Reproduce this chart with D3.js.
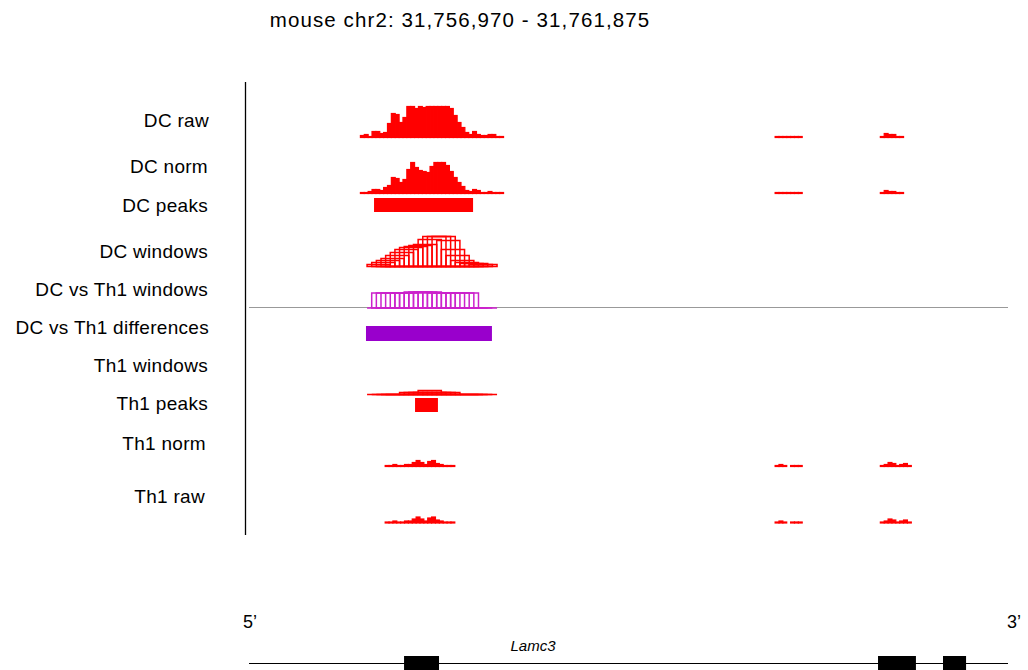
<!DOCTYPE html>
<html>
<head>
<meta charset="utf-8">
<script src="https://cdn.jsdelivr.net/npm/d3@7"></script>
<style>
  body { margin: 0; background: #fff; }
  text { font-family: "Liberation Sans", Arial, Helvetica, sans-serif; }
</style>
</head>
<body>
<svg id="browser" width="1028" height="670"></svg>
<script>
// region shown
var regionChrom = "chr2",
    regionStart = 31756970,
    regionEnd = 31761875;

// track names, top to bottom
var trackNames = ["DC raw", "DC norm", "DC peaks", "DC windows", "DC vs Th1 windows",
                  "DC vs Th1 differences", "Th1 windows", "Th1 peaks", "Th1 norm", "Th1 raw"];

// coverage, 25 bp bins: [first bin start, values...]
var binSize = 25;
var dcRaw = [
  [31757690, [2,3,1,6,6,4,5,14,24,23,15,20,31,31,29,31,30,31,31,31,31,31,31,29,22,15,10,5,3,6,3,2,2,3,3,1,1]],
  [31760370, [1,1,1,1,1,1,1]],
  [31761050, [1,4,3,3,1,1]]
];
var dcNorm = [
  [31757690, [1,1,2,4,4,3,6,8,16,15,11,14,24,31,26,23,22,21,27,31,31,31,28,22,16,11,7,3,2,4,3,1,1,2,1,1,1]],
  [31760370, [1,1,1,1,1,1,1]],
  [31761050, [1,3,2,2,1,1]]
];
var th1Norm = [
  [31757850, [1,1,2,1,1,2,2,4,6,4,2,5,6,3,2,1,1,1]],
  [31760370, [1,2,1,0,1,1,1]],
  [31761050, [1,2,4,3,1,2,3,1]]
];
var th1Raw = [
  [31757850, [1,1,2,1,1,2,2,4,6,4,2,5,6,3,2,1,1,1]],
  [31760370, [1,2,1,0,1,1,1]],
  [31761050, [1,2,4,3,1,2,3,1]]
];

// sliding windows: 150 bp wide, 30 bp step
var windowStart = 31757733, windowStep = 30, windowWidth = 150;
var dcWindows  = [2,4,6,8,11,14,17,19,20,21,22,27,30,30,30,26,17,11,6,4,3,3,2,2];
var th1Windows = [0,0,0,0,0,0,0,2,2,2,2,4,2,2,2,2,0,0,0,0,0,0,0,0];
var dcVsTh1LogFC = [0,1.5,1.5,1.5,1.5,1.5,1.5,1.5,1.6,1.6,1.6,1.6,1.5,1.5,1.5,1.5,1.5,1.5,1.5,1.5,0,0,0,0];

// intervals
var dcPeaks = [[31757778, 31758418]];
var th1Peaks = [[31758043, 31758191]];
var differences = [[31757726, 31758540]];

// gene
var geneName = "Lamc3";
var geneExons = [[31757972, 31758198], [31761035, 31761280], [31761455, 31761604]];

var svg = d3.select("#browser");

var x = d3.scaleLinear().domain([regionStart, regionEnd]).range([249, 1008]);
var yCov = d3.scaleLinear().domain([0, 30]).range([0, 30]);
var yWin = d3.scaleLinear().domain([0, 30]).range([0, 30]);
var yFC = d3.scaleLinear().domain([0, 2]).range([0, 20]);

var red = "#ff0000", magenta = "#cc22cc", purple = "#9900cc";

svg.append("text")
    .attr("x", 460).attr("y", 27)
    .attr("text-anchor", "middle")
    .style("font-size", "20.5px")
    .style("letter-spacing", "1.1px")
    .text("mouse " + regionChrom + ": " + d3.format(",")(regionStart) + " - " + d3.format(",")(regionEnd));

// labels
var labelY = [120, 166, 205, 251, 289, 327, 365, 403, 443, 496];
var labelRight = [209, 208, 208, 208, 208, 209, 208, 208, 206, 205];
svg.append("g").selectAll("text")
    .data(trackNames)
  .enter().append("text")
    .attr("x", function(d, i) { return labelRight[i]; })
    .attr("y", function(d, i) { return labelY[i]; })
    .attr("dy", "0.35em")
    .attr("text-anchor", "end")
    .style("font-size", "19px")
    .style("letter-spacing", "0.3px")
    .text(function(d) { return d; });

svg.append("line")
    .attr("x1", 245.5).attr("x2", 245.5)
    .attr("y1", 82).attr("y2", 535)
    .attr("stroke", "#000").attr("stroke-width", 1.3);

function coverage(data, base) {
  var bins = [];
  data.forEach(function(seg) {
    seg[1].forEach(function(v, i) {
      if (v > 0) bins.push({s: seg[0] + i * binSize, e: seg[0] + (i + 1) * binSize, v: v});
    });
  });
  svg.append("g").selectAll("rect")
      .data(bins)
    .enter().append("rect")
      .attr("x", function(d) { return x(d.s); })
      .attr("width", function(d) { return x(d.e) - x(d.s); })
      .attr("y", function(d) { return base - yCov(d.v); })
      .attr("height", function(d) { return yCov(d.v); })
      .attr("fill", red)
      .attr("stroke", red)
      .attr("stroke-width", 1.2);
}

// each window is an open box; a zero window collapses to a line on the base
function windows(values, base, scale, colour) {
  svg.append("g").selectAll("path")
      .data(values)
    .enter().append("path")
      .attr("d", function(d, i) {
        var x0 = x(windowStart + i * windowStep),
            x1 = x(windowStart + i * windowStep + windowWidth),
            top = base - scale(d);
        return "M" + x0 + "," + base + "V" + top + "H" + x1 + "V" + base + "Z";
      })
      .attr("fill", "none")
      .attr("stroke", colour)
      .attr("stroke-width", 1.5);
}

function intervals(data, top, h, colour) {
  svg.append("g").selectAll("rect")
      .data(data)
    .enter().append("rect")
      .attr("x", function(d) { return x(d[0]); })
      .attr("width", function(d) { return x(d[1]) - x(d[0]); })
      .attr("y", top)
      .attr("height", h)
      .attr("fill", colour);
}

coverage(dcRaw, 137.5);
coverage(dcNorm, 193.5);
intervals(dcPeaks, 198, 14, red);
windows(dcWindows, 266.5, yWin, red);

// zero line of the comparison track
svg.append("line")
    .attr("x1", x(regionStart)).attr("x2", x(regionEnd))
    .attr("y1", 307.5).attr("y2", 307.5)
    .attr("stroke", "#999").attr("stroke-width", 1);
windows(dcVsTh1LogFC, 308, yFC, magenta);
intervals(differences, 326, 15, purple);

windows(th1Windows, 394.5, yWin, red);
intervals(th1Peaks, 398, 14, red);
coverage(th1Norm, 466.5);
coverage(th1Raw, 523);

// gene model
svg.append("text").attr("x", 243).attr("y", 628)
    .style("font-size", "18px").text("5\u2019");
svg.append("text").attr("x", 1021).attr("y", 628).attr("text-anchor", "end")
    .style("font-size", "18px").text("3\u2019");
svg.append("text").attr("x", 533).attr("y", 651).attr("text-anchor", "middle")
    .style("font-size", "15px").style("font-style", "italic").text(geneName);
svg.append("line")
    .attr("x1", x(regionStart)).attr("x2", x(regionEnd))
    .attr("y1", 663.5).attr("y2", 663.5)
    .attr("stroke", "#000").attr("stroke-width", 1);
intervals(geneExons, 656, 16, "#000");
</script>
</body>
</html>
